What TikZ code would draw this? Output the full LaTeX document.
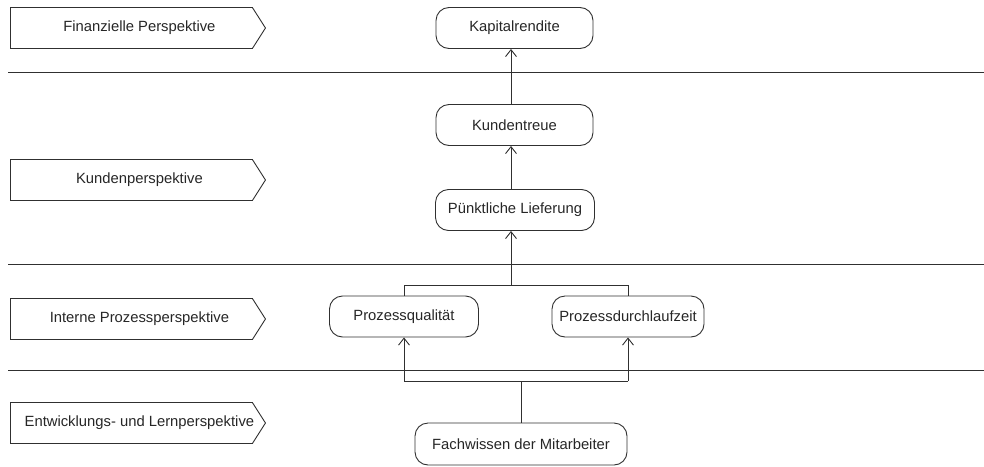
\documentclass[tikz,border=0pt]{standalone}
\usepackage{fontspec}
\setmainfont{Liberation Sans}
\usetikzlibrary{shapes.symbols,arrows.meta}
\definecolor{ln}{HTML}{303030}
\tikzset{
  x=1pt, y=-1pt,
  every node/.style={font=\fontsize{14.8}{17}\selectfont, text=black!85},
  persp/.style={draw=ln, line width=0.9pt, shape=signal, signal to=east, signal pointer angle=115,
    minimum width=255pt, minimum height=41pt, inner sep=0pt, anchor=west},
  plabel/.style={inner sep=0pt},
  goal/.style={draw=ln, line width=0.9pt, rounded corners=13pt, minimum height=41pt, inner sep=0pt},
  sep/.style={draw=ln, line width=0.9pt},
  link/.style={draw=ln, line width=0.9pt},
  arr/.style={link, -{Straight Barb[length=7pt,width=11pt,line width=0.9pt]}}
}
\begin{document}
\begin{tikzpicture}
\useasboundingbox (0,0) rectangle (984,466);
% perspectives
\node[persp] (p1) at (10,28) {};
\node[persp] (p2) at (10,180) {};
\node[persp] (p3) at (10,319) {};
\node[persp] (p4) at (10,423) {};
\node[plabel] (t1) at ([xshift=8pt]p1.center) {Finanzielle Perspektive};
\node[plabel] (t2) at ([xshift=8pt]p2.center) {Kundenperspektive};
\node[plabel] (t3) at ([xshift=8pt]p3.center) {Interne Prozessperspektive};
\node[plabel] (t4) at ([xshift=8pt]p4.center) {Entwicklungs- und Lernperspektive};
% separators
\coordinate (s1a) at (8,72);  \coordinate (s1b) at (984,72);
\coordinate (s2a) at (8,264); \coordinate (s2b) at (984,264);
\coordinate (s3a) at (8,370); \coordinate (s3b) at (984,370);
\draw[sep] (s1a) -- (s1b);
\draw[sep] (s2a) -- (s2b);
\draw[sep] (s3a) -- (s3b);
% goals
\node[goal, minimum width=157pt] (kap) at (514.5,28) {Kapitalrendite};
\node[goal, minimum width=157pt] (kt) at (514.5,125) {Kundentreue};
\node[goal, minimum width=159pt] (pl) at (515,210) {Pünktliche Lieferung};
\node[goal, minimum width=149pt] (pq) at (404,316.5) {Prozessqualität};
\node[goal, minimum width=152pt] (pd) at (628,316.5) {Prozessdurchlaufzeit};
\node[goal, minimum width=212pt, minimum height=42pt] (fw) at (521,444) {Fachwissen der Mitarbeiter};
% connectors
\coordinate (ax) at (511,0);
\coordinate (j1) at (511,285);
\coordinate (j2) at (521,381);
\draw[arr] (kt.north -| ax) -- (kap.south -| ax);
\draw[arr] (pl.north -| ax) -- (kt.south -| ax);
\draw[link] (pq.north) -- (pq.north |- j1) -- (pd.north |- j1) -- (pd.north);
\draw[arr] (j1) -- (pl.south -| j1);
\draw[link] (fw.north) -- (j2);
\draw[arr] (pq.south |- j2) -- (pq.south);
\draw[arr] (pd.south |- j2) -- (pd.south);
\draw[link] (pq.south |- j2) -- (pd.south |- j2);
\end{tikzpicture}
\end{document}
